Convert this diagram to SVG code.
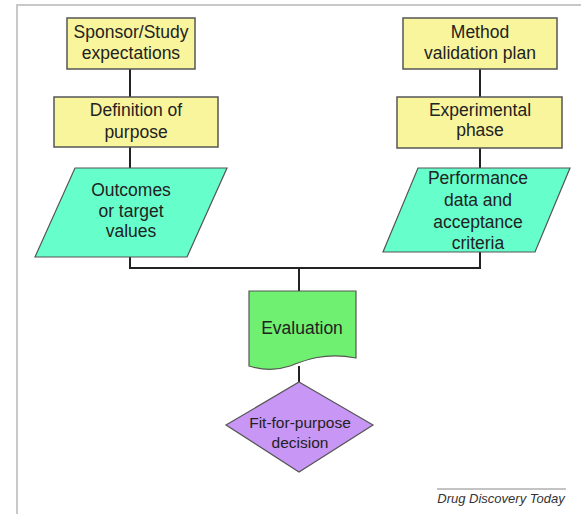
<svg xmlns="http://www.w3.org/2000/svg" width="581" height="514" viewBox="0 0 581 514">
<style>
.t{font-family:"Liberation Sans",Arial,sans-serif;font-size:17.5px;fill:#222;text-anchor:middle}
.y{fill:#F9F59C;stroke:#555;stroke-width:1.5}
.c{fill:#66FFCC;stroke:#555;stroke-width:1.2}
.g{fill:#70F070;stroke:#555;stroke-width:1.2}
.p{fill:#C896F5;stroke:#555;stroke-width:1.2}
.ln{fill:none;stroke:#222;stroke-width:2}
</style>
<rect width="581" height="514" fill="#fff"/>
<path d="M17,514 V5 H581" fill="none" stroke="#c8c8c8" stroke-width="2"/>
<g id="connectors">
<path class="ln" d="M130,69 V97 M130,147 V168 M130,257 V268 H480 V252 M480,69 V97 M480,148 V168 M299,268 V291 M299,366 V382"/>
</g>
<g id="sponsor">
<rect class="y" x="67" y="18" width="128" height="51"/>
<text class="t" x="131" y="38">Sponsor/Study</text>
<text class="t" x="131" y="59">expectations</text>
</g>
<g id="definition">
<rect class="y" x="54" y="97" width="164" height="50"/>
<text class="t" x="136" y="116">Definition of</text>
<text class="t" x="136" y="138">purpose</text>
</g>
<g id="outcomes">
<polygon class="c" points="75,168 227,168 187,257 35,257"/>
<text class="t" x="131" y="196">Outcomes</text>
<text class="t" x="131" y="217">or target</text>
<text class="t" x="131" y="237">values</text>
</g>
<g id="method">
<rect class="y" x="403" y="18" width="154" height="51"/>
<text class="t" x="480" y="38">Method</text>
<text class="t" x="480" y="59">validation plan</text>
</g>
<g id="experimental">
<rect class="y" x="397" y="97" width="165" height="51"/>
<text class="t" x="480" y="116">Experimental</text>
<text class="t" x="480" y="136">phase</text>
</g>
<g id="performance">
<polygon class="c" points="418,168 570,168 535,252 383,252"/>
<text class="t" x="478" y="184">Performance</text>
<text class="t" x="478" y="206">data and</text>
<text class="t" x="478" y="228">acceptance</text>
<text class="t" x="478" y="249">criteria</text>
</g>
<g id="evaluation">
<path class="g" d="M249,291 H356 V358 C325,352 305,360 290,366 C275,371 262,370 249,366 Z"/>
<text class="t" x="302" y="334">Evaluation</text>
</g>
<g id="decision">
<polygon class="p" points="299,382 373,425 299,472 226,425"/>
<text class="t" x="300" y="428" style="font-size:15.5px">Fit-for-purpose</text>
<text class="t" x="300" y="448" style="font-size:15.5px">decision</text>
</g>
<g id="footer">
<line x1="437" y1="489" x2="566" y2="489" stroke="#888" stroke-width="1"/>
<text x="501" y="503" style="font-family:'Liberation Sans',Arial,sans-serif;font-size:13px;font-style:italic;fill:#333;text-anchor:middle">Drug Discovery Today</text>
</g>
</svg>
